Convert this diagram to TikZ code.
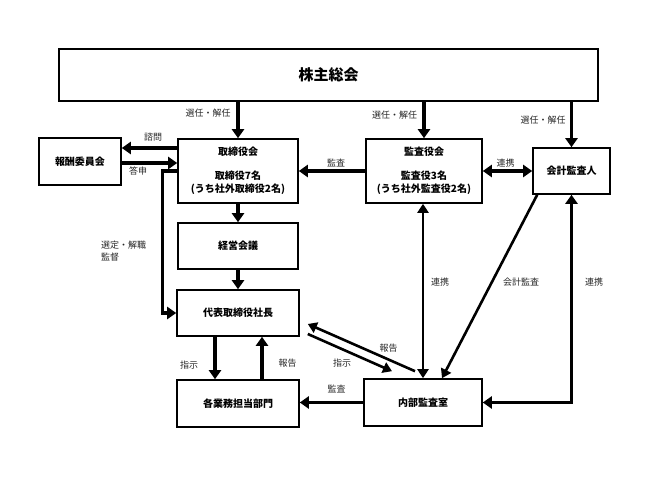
\documentclass[tikz,border=0pt]{standalone}
\usepackage{fontspec}
\setmainfont{Noto Sans CJK JP}
\usetikzlibrary{
    arrows.meta,
    calc,
    positioning
}
\tikzset{
    box/.style={draw, line width=1.6pt, rectangle, align=center, font=\bfseries\fontsize{10}{13}\selectfont, inner sep=0pt},
    lbl/.style={font=\fontsize{9}{12}\selectfont, inner sep=0pt, text=black!85},
    arr/.style={line width=3.4pt, -{Triangle[length=9pt,width=12pt]}},
    darr/.style={line width=3.4pt, {Triangle[length=9pt,width=12pt]}-{Triangle[length=9pt,width=12pt]}},
    thin arr/.style={line width=2.6pt, -{Triangle[length=9pt,width=11pt]}},
    thin darr/.style={line width=2.6pt, {Triangle[length=9pt,width=11pt]}-{Triangle[length=9pt,width=11pt]}}
}

\begin{document}
\begin{tikzpicture}[x=1pt, y=-1pt]
                        \useasboundingbox (0, 0) rectangle (649, 487);
                        \node[box, minimum width=539pt, minimum height=52pt, font=\bfseries\fontsize{15}{18}\selectfont] (sk) at (328.5, 75) {株主総会};
                        \node[box, minimum width=82pt, minimum height=47pt] (hs) at (80, 161.5) {報酬委員会};
                        \node[box, minimum width=120pt, minimum height=64pt] (tr) at (238, 171) {取締役会\\[11pt]取締役7名\\(うち社外取締役2名)};
                        \node[box, minimum width=116pt, minimum height=64pt] (ks) at (424, 171) {監査役会\\[11pt]監査役3名\\(うち社外監査役2名)};
                        \node[box, minimum width=77pt, minimum height=46pt] (kk) at (571.5, 171) {会計監査人};
                        \node[box, minimum width=120pt, minimum height=46pt] (kg) at (238, 246) {経営会議};
                        \node[box, minimum width=122pt, minimum height=46pt] (sc) at (238, 313) {代表取締役社長};
                        \node[box, minimum width=122pt, minimum height=47pt] (gm) at (238, 403.5) {各業務担当部門};
                        \node[box, minimum width=118pt, minimum height=47pt] (nb) at (423, 402.5) {内部監査室};
                        % labels
                        \node[lbl] (l1) at (208, 113) {選任・解任};
                        \node[lbl] (l2) at (394.5, 115) {選任・解任};
                        \node[lbl] (l3) at (543, 120) {選任・解任};
                        \node[lbl] (l4) at (153, 137.5) {諮問};
                        \node[lbl] (l5) at (138, 171) {答申};
                        \node[lbl] (l6) at (336, 163) {監査};
                        \node[lbl] (l7) at (505.5, 163) {連携};
                        \node[lbl, anchor=west, align=left] (l8) at (101, 251) {選定・解職\\監督};
                        \node[lbl] (l9) at (189, 365) {指示};
                        \node[lbl] (l10) at (287.5, 363) {報告};
                        \node[lbl] (l11) at (342, 363) {指示};
                        \node[lbl] (l12) at (388.5, 348) {報告};
                        \node[lbl] (l13) at (336.5, 389) {監査};
                        \node[lbl] (l14) at (440, 282) {連携};
                        \node[lbl] (l15) at (521, 282) {会計監査};
                        \node[lbl] (l16) at (594, 282) {連携};
                        % connectors
                        \draw[arr] (tr.north |- sk.south) -- (tr.north);
                        \draw[arr] (ks.north |- sk.south) -- (ks.north);
                        \draw[arr] (kk.north |- sk.south) -- (kk.north);
                        \draw[arr] ([yshift=23pt]tr.west) -- ([yshift=23pt]tr.west -| hs.east);
                        \draw[arr] ([yshift=8pt]tr.west -| hs.east) -- ([yshift=8pt]tr.west);
                        \draw[arr] (ks.west) -- (tr.east);
                        \draw[darr] (ks.east) -- (kk.west);
                        \draw[arr] (tr.south) -- (kg.north);
                        \draw[arr] (kg.south) -- (sc.north);
                        \draw[arr] (tr.west) -- ++(-15, 0) |- (sc.west);
                        \draw[arr] ([xshift=-23pt]sc.south) -- ([xshift=-23pt]gm.north);
                        \draw[arr] ([xshift=24pt]gm.north) -- ([xshift=24pt]sc.south);
                        \draw[arr] (nb.west) -- (nb.west -| gm.east);
                        \draw[thin darr] (ks.south -| nb.north) -- (nb.north);
                        \draw[thin arr] ([xshift=5pt]kk.south west) -- ([xshift=19pt]nb.north);
                        \draw[darr] (kk.south) |- (nb.east);
                        \draw[thin arr] ($(nb.north)+(-8, -7)$) -- ($(sc.east)+(8, 11)$);
                        \draw[thin arr] ($(sc.east)+(8, 21)$) -- ($(nb.north)+(-31, -7)$);
                    \end{tikzpicture}
\end{document}
